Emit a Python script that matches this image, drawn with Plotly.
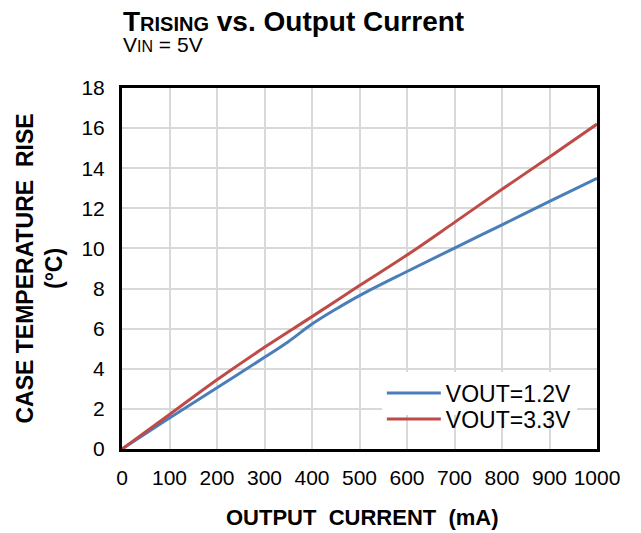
import plotly.graph_objects as go

current_ma_1v2 = [0, 100, 200, 300, 350, 400, 450, 500, 600, 700, 800, 900, 1000]
rise_1v2 = [0.0, 1.55, 3.05, 4.57, 5.35, 6.23, 6.97, 7.65, 8.85, 10.02, 11.18, 12.35, 13.5]
current_ma_3v3 = [0, 100, 200, 300, 400, 500, 600, 700, 800, 900, 1000]
rise_3v3 = [0.0, 1.72, 3.45, 5.07, 6.6, 8.15, 9.67, 11.3, 12.95, 14.56, 16.2]

x_ticks = [0, 100, 200, 300, 400, 500, 600, 700, 800, 900, 1000]
y_ticks = [0, 2, 4, 6, 8, 10, 12, 14, 16, 18]

fig = go.Figure()
fig.add_trace(go.Scatter(x=current_ma_1v2, y=rise_1v2, mode="lines", name="VOUT=1.2V",
                         legend="legend",
                         line=dict(color="#4a7ebb", width=3, shape="spline", smoothing=1.0)))
fig.add_trace(go.Scatter(x=current_ma_3v3, y=rise_3v3, mode="lines", name="VOUT=3.3V",
                         legend="legend2",
                         line=dict(color="#be4b48", width=3, shape="spline", smoothing=1.0)))

leg_common = dict(xanchor="left", yanchor="middle",
                  font=dict(size=23), borderwidth=0, itemwidth=54)

title_text = ("<span style='font-size:28px'><b>T<span style='font-size:20px'>RISING</span>"
              " vs. Output Current</b></span><br>"
              "<span style='font-size:21px'>V<span style='font-size:16px'>IN</span> = 5V</span>")

fig.update_layout(
    width=641, height=533,
    margin=dict(l=122, r=44, t=88, b=84, autoexpand=False),
    paper_bgcolor="white", plot_bgcolor="white",
    font=dict(family="Arial, Liberation Sans, sans-serif", color="black", size=18),
    showlegend=True,
    legend=dict(x=0.547, y=0.155, bgcolor="white", **leg_common),
    legend2=dict(x=0.547, y=0.083, bgcolor="rgba(255,255,255,0)", **leg_common),
    annotations=[
        dict(text=title_text, align="left",
             xref="paper", yref="paper", x=0, y=1, xanchor="left", yanchor="bottom",
             yshift=30, xshift=-1, showarrow=False, font=dict(size=16)),
        dict(text="<b>CASE TEMPERATURE  RISE<br>(°C)</b>",
             xref="paper", yref="paper", x=0, y=0.5, xanchor="center", yanchor="middle",
             xshift=-83, textangle=-90, showarrow=False, font=dict(size=23)),
        dict(text="<b>OUTPUT  CURRENT  (mA)</b>",
             xref="paper", yref="paper", x=0.5, y=0, xanchor="center", yanchor="middle",
             yshift=-68, xshift=3, showarrow=False, font=dict(size=22)),
    ],
)
fig.update_xaxes(range=[0, 1000], tickvals=x_ticks, ticktext=[str(v) for v in x_ticks],
                 showgrid=True, gridcolor="#d9d9d9", gridwidth=2,
                 showline=True, linecolor="black", linewidth=3, mirror=True,
                 ticks="", zeroline=False, tickfont=dict(size=21), ticklabelstandoff=8,
                 automargin=False)
fig.update_yaxes(range=[0, 18], tickvals=y_ticks,
                 showgrid=True, gridcolor="#d9d9d9", gridwidth=2,
                 showline=True, linecolor="black", linewidth=3, mirror=True,
                 ticks="", zeroline=False, tickfont=dict(size=21), ticklabelstandoff=10,
                 automargin=False)

fig.write_html("out.html", config={"displayModeBar": False},
               post_script="document.body.style.margin='0';")
